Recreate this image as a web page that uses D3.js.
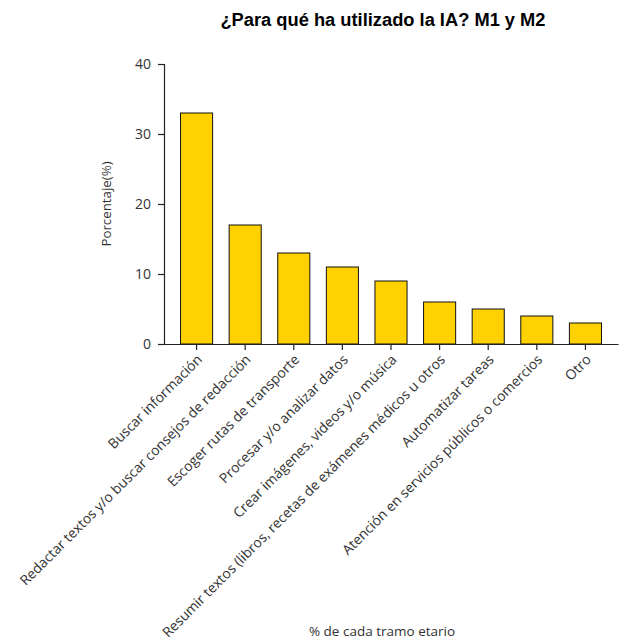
<!DOCTYPE html>
<html><head><meta charset="utf-8">
<script src="https://cdn.jsdelivr.net/npm/d3@7"></script>
<style>body{margin:0;background:#fff;}</style>
</head><body>
<svg id="c" width="619" height="639"></svg>
<script>
const categories = ["Buscar información","Redactar textos y/o buscar consejos de redacción","Escoger rutas de transporte","Procesar y/o analizar datos","Crear imágenes, videos y/o música","Resumir textos (libros, recetas de exámenes médicos u otros","Automatizar tareas","Atención en servicios públicos o comercios","Otro"];
const values = [33,17,13,11,9,6,5,4,3];
const yTicks = [0,10,20,30,40];

(function(){
const svg = d3.select("#c");
const mLeft = 164, mRight = 618, mTop = 64, mBottom = 344;
const font = "'Open Sans', sans-serif";

const x = d3.scaleBand().domain(categories).range([mLeft, mRight]).paddingInner(0.34).paddingOuter(0.34);
const y = d3.scaleLinear().domain([0, 40]).range([mBottom, mTop]);

svg.append("text").attr("x", 383).attr("y", 26).attr("text-anchor", "middle")
  .style("font-family", "'Liberation Sans', Arial, sans-serif").style("font-weight", "bold").style("font-size", "18.3px").attr("fill", "#000")
  .text("¿Para qué ha utilizado la IA? M1 y M2");

svg.selectAll("rect.bar").data(values).join("rect").attr("class","bar")
  .attr("x", (d,i) => x(categories[i])).attr("width", x.bandwidth())
  .attr("y", d => y(d)).attr("height", d => y(0) - y(d))
  .attr("fill", "#FFD100").attr("stroke", "#111").attr("stroke-width", 1);

const ya = svg.append("g").attr("transform", `translate(${mLeft},0)`)
  .call(d3.axisLeft(y).tickValues(yTicks).tickSize(6).tickPadding(7));
ya.selectAll("text").style("font-family", font).style("font-size", "14px").attr("fill", "#333");

const xa = svg.append("g").attr("transform", `translate(0,${mBottom})`)
  .call(d3.axisBottom(x).tickSize(6).tickSizeOuter(0));
xa.selectAll("text").style("font-family", font).style("font-size", "13.9px").attr("fill", "#333")
  .attr("text-anchor", "end").attr("dy", "0.35em")
  .attr("transform", "translate(3,13) rotate(-45)").attr("y", 0).attr("x", 0);

svg.selectAll(".domain, .tick line").attr("stroke", "#222").attr("stroke-width", 1.2);

svg.append("text").attr("transform", `translate(111,${(mTop+mBottom)/2}) rotate(-90)`)
  .attr("text-anchor", "middle").style("font-family", font).style("font-size", "13.3px").attr("fill", "#333")
  .text("Porcentaje(%)");

svg.append("text").attr("x", 382).attr("y", 636).attr("text-anchor", "middle")
  .style("font-family", font).style("font-size", "13.5px").attr("fill", "#333")
  .text("% de cada tramo etario");
})();
</script>
</body></html>
